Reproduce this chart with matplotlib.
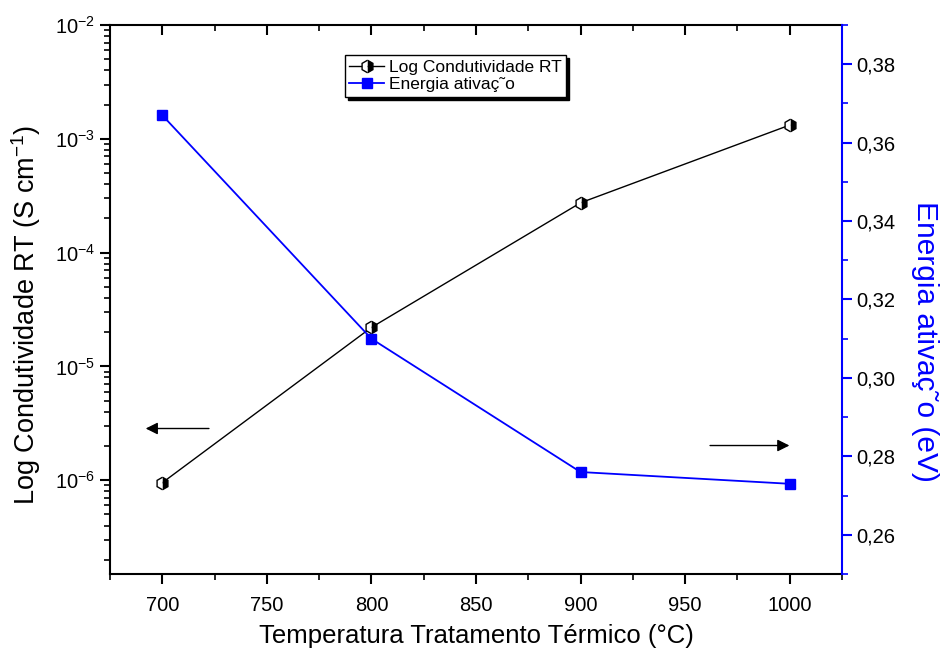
import numpy as np
import matplotlib
matplotlib.use("Agg")
import matplotlib.pyplot as plt
from matplotlib.ticker import LogLocator, MultipleLocator, FuncFormatter, NullFormatter

plt.rcParams["font.family"] = ["Liberation Sans", "DejaVu Sans"]
plt.rcParams["mathtext.fontset"] = "custom"
plt.rcParams["mathtext.rm"] = "Liberation Sans"
plt.rcParams["mathtext.it"] = "Liberation Sans"
plt.rcParams["mathtext.default"] = "regular"

# dados
temperatura = [700, 800, 900, 1000]
condutividade = [9.5e-7, 2.2e-5, 2.74e-4, 1.32e-3]
energia = [0.367, 0.310, 0.276, 0.273]

fig = plt.figure(figsize=(9.4, 6.55), dpi=100)
ax = fig.add_axes([0.117, 0.1237, 0.7787, 0.8381])
ax2 = ax.twinx()

l1, = ax.plot(temperatura, condutividade, color="black", lw=1,
              marker="h", ms=9, fillstyle="right", mfc="black",
              mfcalt="white", mec="black", mew=1, label="Log Condutividade RT")
l2, = ax2.plot(temperatura, energia, color="blue", lw=1.3,
               marker="s", ms=7, mfc="blue", mec="blue",
               label="Energia ativaç˜o")

ax.set_yscale("log")
ax.set_xlim(675, 1025)
ax.set_ylim(1.5e-7, 1e-2)
ax2.set_ylim(0.25, 0.39)

ax.xaxis.set_major_locator(MultipleLocator(50))
ax.xaxis.set_minor_locator(MultipleLocator(25))
ax.yaxis.set_major_locator(LogLocator(base=10, numticks=100))
ax.yaxis.set_minor_locator(LogLocator(base=10, subs=np.arange(2, 10), numticks=100))
ax.yaxis.set_minor_formatter(NullFormatter())
ax.yaxis.set_major_formatter(FuncFormatter(
    lambda v, _: "10$^{%d}$" % round(np.log10(v))))
ax2.yaxis.set_major_locator(MultipleLocator(0.02))
ax2.yaxis.set_minor_locator(MultipleLocator(0.01))
ax2.yaxis.set_major_formatter(FuncFormatter(lambda v, _: f"{v:.2f}".replace(".", ",")))

ax.tick_params(axis="both", which="major", direction="out", length=7, width=1.5,
               labelsize=14.5)
ax.tick_params(axis="both", which="minor", direction="out", length=4, width=1.2)
ax.tick_params(axis="x", which="major", pad=9)
ax.tick_params(axis="x", which="both", top=True)
ax2.tick_params(axis="y", which="major", direction="out", length=7, width=1.5,
                colors="blue", labelcolor="black", labelsize=14.5)
ax2.tick_params(axis="y", which="minor", direction="out", length=4, width=1.2,
                colors="blue")

for s in ["left", "bottom", "top"]:
    ax.spines[s].set_linewidth(1.5)
for s in ["left", "bottom", "top"]:
    ax2.spines[s].set_visible(False)
ax.spines["right"].set_visible(False)
ax2.spines["right"].set_color("blue")
ax2.spines["right"].set_linewidth(1.5)

# marcas do eixo superior para dentro
for t in ax.xaxis.get_major_ticks() + ax.xaxis.get_minor_ticks():
    t.tick2line.set_marker(matplotlib.lines.TICKDOWN)

ax.set_xlabel("Temperatura Tratamento Térmico (°C)", fontsize=18.5, labelpad=6)
ax.set_ylabel("Log Condutividade RT (S cm$^{-1}$)", fontsize=19.5)
ax.yaxis.set_label_coords(-0.0915, 0.472)
ax2.set_ylabel("Energia ativaç˜o (eV)", fontsize=21.5, color="blue", rotation=270)
ax2.yaxis.set_label_coords(1.132, 0.423)

# setas indicando o eixo de cada série
ax.annotate("", xy=(0.045, 0.265), xytext=(0.139, 0.265), xycoords="axes fraction",
            arrowprops=dict(arrowstyle="-|>", color="black", lw=1,
                            mutation_scale=18))
ax.annotate("", xy=(0.932, 0.234), xytext=(0.816, 0.234), xycoords="axes fraction",
            arrowprops=dict(arrowstyle="-|>", color="black", lw=1,
                            mutation_scale=18))

leg = ax.legend(handles=[l1, l2], loc="upper left", bbox_to_anchor=(0.321, 0.945),
                borderaxespad=0, fontsize=12.5, frameon=True, fancybox=False,
                edgecolor="black", shadow={"color": "black", "alpha": 1},
                handlelength=2.0, borderpad=0.25, labelspacing=0.15,
                handletextpad=0.3)
leg.get_frame().set_linewidth(1)

fig.savefig("out.png", dpi=100)
